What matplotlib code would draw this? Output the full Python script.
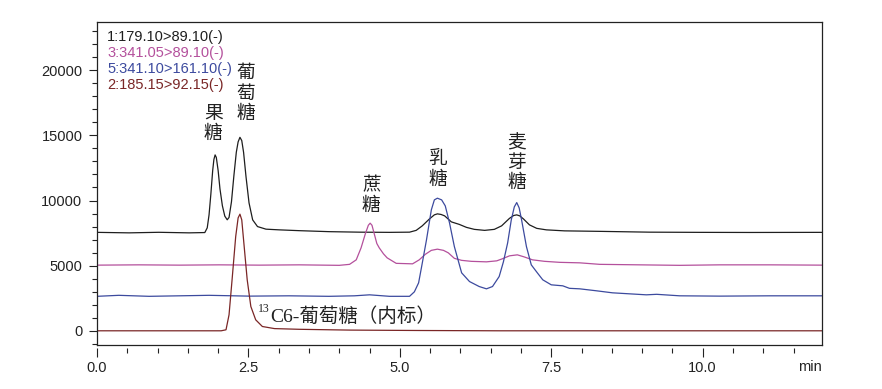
import matplotlib
matplotlib.use("Agg")
import matplotlib.pyplot as plt
from matplotlib.ticker import MultipleLocator, FixedLocator

plt.rcParams['font.family'] = ['Liberation Sans', 'DejaVu Sans']

# ---- data (time in min, intensity in counts) ----
t1 = [0.00, 0.53, 1.02, 1.52, 1.78, 1.82, 1.85, 1.88, 1.91, 1.93, 1.95, 1.97, 2.00, 2.03,
      2.07, 2.11, 2.15, 2.18, 2.22, 2.26, 2.30, 2.33, 2.36, 2.39, 2.42, 2.46, 2.51, 2.57,
      2.65, 2.79, 3.01, 3.34, 3.83, 4.33, 4.83, 5.16, 5.27, 5.37, 5.49, 5.57, 5.62, 5.68,
      5.74, 5.85, 5.98, 6.10, 6.23, 6.40, 6.56, 6.68, 6.81, 6.88, 6.93, 6.98, 7.04, 7.14,
      7.26, 7.42, 7.72, 8.30, 9.12, 9.95, 10.78, 11.97]
i1 = [7555, 7517, 7560, 7517, 7540, 7900, 8900, 10500, 12300, 13150, 13500, 13300, 12300, 10900,
      9600, 8800, 8520, 8700, 9900, 11900, 13700, 14500, 14850, 14600, 13700, 11835, 9818, 8514,
      8000, 7800, 7747, 7685, 7609, 7570, 7555, 7570, 7708, 8054, 8590, 8900, 8974, 8930,
      8820, 8360, 8169, 7938, 7785, 7708, 7785, 8054, 8629, 8850, 8897, 8820, 8590, 8130,
      7862, 7747, 7670, 7632, 7570, 7555, 7547, 7555]

t3 = [0.00, 0.69, 1.36, 2.02, 2.68, 3.34, 4.00, 4.17, 4.28, 4.36, 4.43, 4.48, 4.51, 4.54, 4.58,
      4.62, 4.66, 4.73, 4.79, 4.94, 5.21, 5.32, 5.42, 5.52, 5.62, 5.72, 5.80, 5.90, 6.02, 6.18,
      6.43, 6.60, 6.69, 6.81, 6.94, 7.05, 7.19, 7.39, 7.64, 7.97, 8.30, 8.96, 9.62, 10.28,
      11.11, 11.97]
i3 = [5039, 5062, 5039, 5062, 5039, 5062, 5024, 5100, 5446, 6366, 7440, 8100, 8260, 8100, 7400,
      6700, 6366, 5906, 5600, 5177, 5139, 5446, 5868, 6174, 6266, 6174, 5983, 5561, 5407, 5331,
      5292, 5369, 5522, 5753, 5830, 5676, 5446, 5331, 5254, 5216, 5100, 5062, 5024, 5062,
      5062, 5039]

t5 = [0.00, 0.36, 0.86, 1.36, 1.85, 2.51, 3.17, 3.83, 4.25, 4.50, 4.83, 5.16, 5.24, 5.31,
      5.36, 5.44, 5.52, 5.57, 5.62, 5.69, 5.75, 5.82, 5.90, 6.02, 6.15, 6.31, 6.43, 6.53,
      6.64, 6.71, 6.78, 6.84, 6.89, 6.93, 6.97, 7.01, 7.09, 7.17, 7.27, 7.36, 7.50, 7.69,
      7.80, 7.97, 8.25, 8.51, 9.07, 9.24, 9.62, 10.28, 11.11, 11.97]
i5 = [2646, 2723, 2646, 2685, 2723, 2661, 2685, 2646, 2685, 2761, 2646, 2646, 2991, 3682,
      4932, 6980, 9281, 10048, 10178, 10048, 9588, 8284, 6466, 4449, 3781, 3398, 3221, 3398,
      4165, 5292, 6750, 8514, 9511, 9841, 9434, 8514, 6466, 5062, 4449, 3912, 3528, 3452,
      3260, 3221, 3068, 2915, 2761, 2800, 2685, 2661, 2685, 2685]

t2 = [0.00, 0.86, 1.69, 2.05, 2.13, 2.18, 2.23, 2.29, 2.33, 2.36, 2.39, 2.43, 2.48, 2.54,
      2.62, 2.73, 2.93, 3.34, 4.17, 5.32, 6.64, 11.97]
i2 = [0, 0, 0, 0, 77, 1227, 3912, 7233, 8667, 8951, 8514, 6466, 3912, 1864,
      844, 330, 169, 115, 54, 23, 0, 0]

legend_labels = ["1:179.10>89.10(-)", "3:341.05>89.10(-)", "5:341.10>161.10(-)", "2:185.15>92.15(-)"]
trace_colors = ["#1e1e1e", "#b4509c", "#3c4a9e", "#7a2626"]

peak_labels = ["果\n糖", "葡\n萄\n糖", "蔗\n糖", "乳\n糖", "麦\n芽\n糖"]
peak_label_t = [1.92, 2.46, 4.53, 5.62, 6.93]
peak_label_i = [15900, 18250, 10430, 12425, 12900]

xticks_major = [0.0, 2.5, 5.0, 7.5, 10.0]
xtick_labels = ["0.0", "2.5", "5.0", "7.5", "10.0"]
yticks_major = [0, 5000, 10000, 15000, 20000]

# ---- figure ----
fig = plt.figure(figsize=(8.82, 3.89), dpi=100)
ax = fig.add_axes([97/882, 1 - 345/389, (822-97)/882, (345-22)/389])

for t, i, c in zip([t1, t3, t5, t2], [i1, i3, i5, i2], trace_colors):
    ax.plot(t, i, color=c, lw=0.9)

ax.set_xlim(0, 11.97)
ax.set_ylim(-1090, 23700)

ax.xaxis.set_major_locator(FixedLocator(xticks_major))
ax.set_xticklabels(xtick_labels)
ax.xaxis.set_minor_locator(MultipleLocator(0.5))
ax.yaxis.set_major_locator(FixedLocator(yticks_major))
ax.yaxis.set_minor_locator(MultipleLocator(1000))

ax.spines['bottom'].set_position(('outward', 2.2))
ax.spines['bottom'].set_visible(False)
ax.plot([0, 1], [0, 0], transform=ax.transAxes, color='#222222', lw=0.9, clip_on=False)
for s in ['left', 'top', 'right']:
    ax.spines[s].set_color('#222222')
    ax.spines[s].set_linewidth(0.9)

ax.tick_params(axis='x', which='major', direction='out', length=6.5, width=0.8,
               labelsize=10.5, pad=2.5, colors='#222222')
ax.tick_params(axis='x', which='minor', direction='out', length=3.5, width=0.8, colors='#222222')
ax.tick_params(axis='y', which='major', direction='out', length=6, width=0.8,
               labelsize=10.5, pad=4.5, colors='#222222')
ax.tick_params(axis='y', which='minor', direction='out', length=3.5, width=0.8, colors='#222222')

ax.text(1.0, (345 - 367) / 323, "min", transform=ax.transAxes, ha='right', va='center',
        fontsize=10.5, color='#222222')

# legend-like header
for k, (lab, c) in enumerate(zip(legend_labels, trace_colors)):
    y_px = 37 + 16 * k
    ax.text((107 - 97) / 725, (345 - y_px) / 323, lab, transform=ax.transAxes,
            ha='left', va='center', fontsize=10.5, color=c)

# peak labels
for lab, tx, iy in zip(peak_labels, peak_label_t, peak_label_i):
    ax.text(tx, iy, lab, ha='center', va='center', fontsize=13.5, linespacing=0.95,
            family=['Noto Sans CJK SC'], color='#222222')

# internal standard label
ax.text(2.66, 1650, "13", ha='left', va='center', fontsize=8.5,
        family=['Liberation Serif', 'DejaVu Serif'], color='#222222')
ax.text(2.86, 1070, "C6-葡萄糖（内标）", ha='left', va='center', fontsize=14,
        family=['Liberation Serif', 'Noto Sans CJK SC'], color='#222222')

fig.savefig("out.png", dpi=100)
